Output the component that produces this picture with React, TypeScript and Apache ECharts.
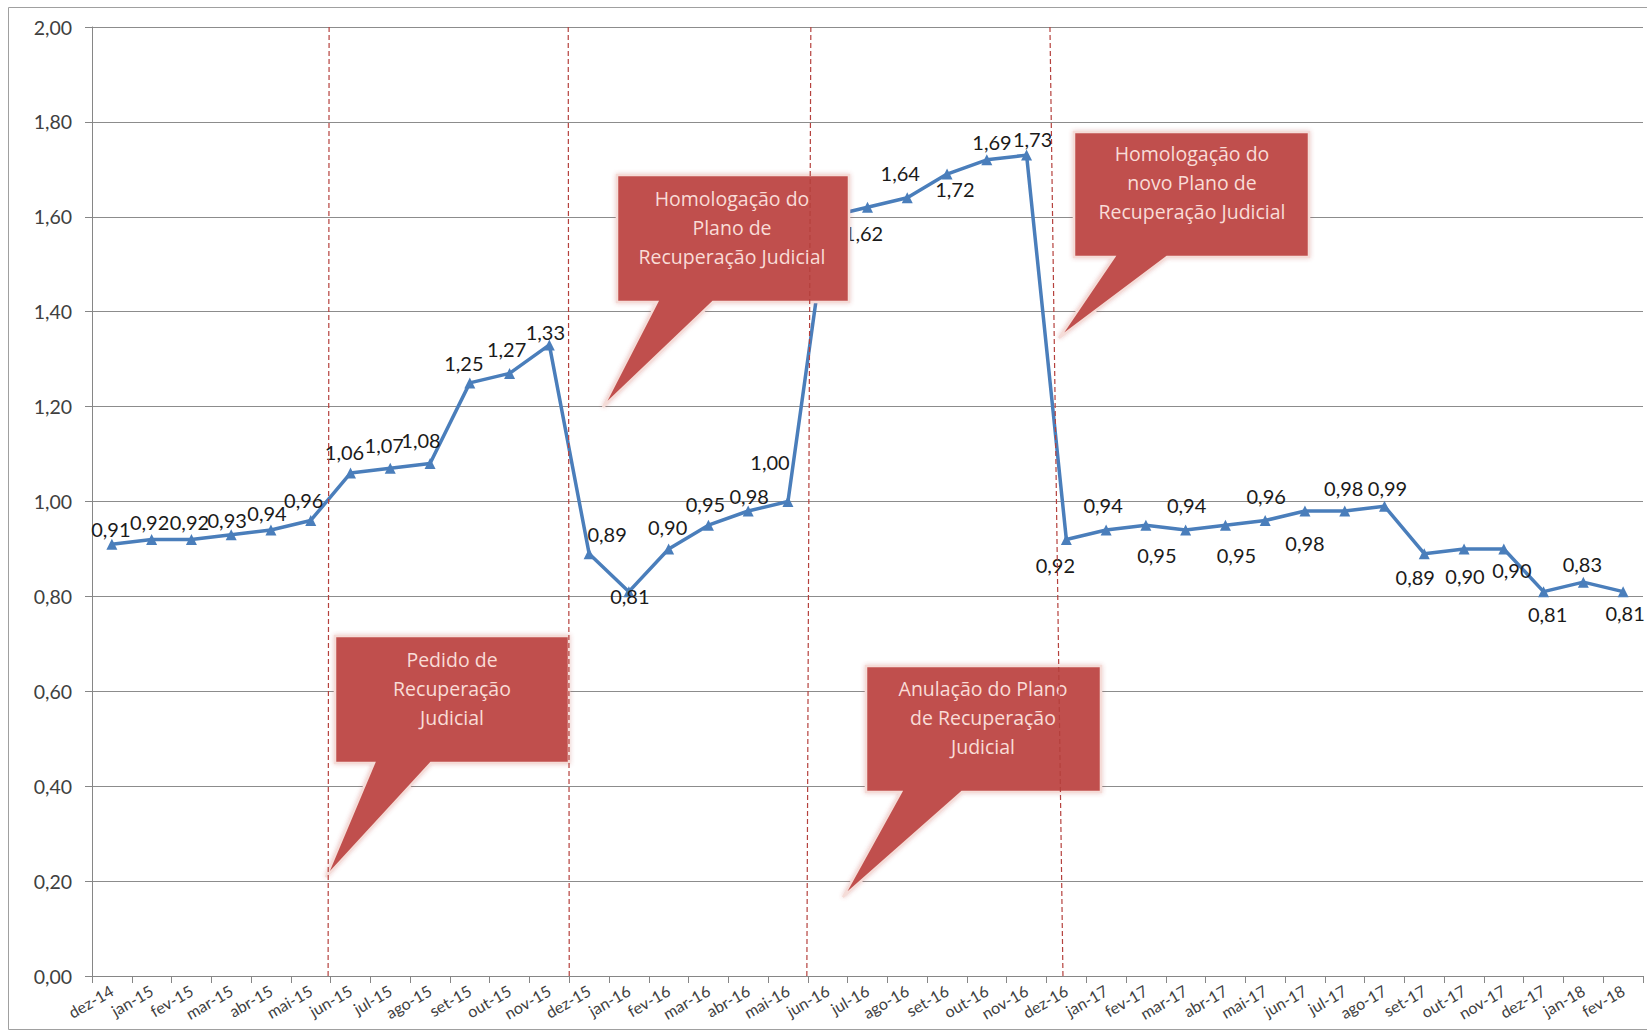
import React, { useEffect, useRef } from "react";
import * as echarts from "echarts";

const categories = [
  "dez-14", "jan-15", "fev-15", "mar-15", "abr-15", "mai-15", "jun-15", "jul-15", "ago-15", "set-15",
  "out-15", "nov-15", "dez-15", "jan-16", "fev-16", "mar-16", "abr-16", "mai-16", "jun-16", "jul-16",
  "ago-16", "set-16", "out-16", "nov-16", "dez-16", "jan-17", "fev-17", "mar-17", "abr-17", "mai-17",
  "jun-17", "jul-17", "ago-17", "set-17", "out-17", "nov-17", "dez-17", "jan-18", "fev-18",
];

const values = [
  0.91, 0.92, 0.92, 0.93, 0.94, 0.96, 1.06, 1.07, 1.08, 1.25,
  1.27, 1.33, 0.89, 0.81, 0.90, 0.95, 0.98, 1.00, 1.60, 1.62,
  1.64, 1.69, 1.72, 1.73, 0.92, 0.94, 0.95, 0.94, 0.95, 0.96,
  0.98, 0.98, 0.99, 0.89, 0.90, 0.90, 0.81, 0.83, 0.81,
];

const yMin = 0;
const yMax = 2;
const yInterval = 0.2;

// index of the month just before each event line
const eventAfterIndex = [5, 11, 17, 23];

// label placement (offset of label centre from the point), style only
const labelOffsets: number[][] = [
  [-1, -15], [-2, -17], [-2, -17], [-4, -15], [-4, -17], [-7, -20], [-6, -21], [-6, -23], [-9, -24], [-6, -20],
  [-3, -24], [-4, -13], [18, -20], [1, 4], [-1, -22], [-3, -21], [1, -15], [-18, -40], [0, -20], [-4, 26],
  [-7, -25], [45, -32], [-32, 29], [6, -16], [-11, 26], [-3, -25], [11, 30], [1, -25], [11, 30], [1, -24],
  [0, 32], [-1, -23], [3, -18], [-9, 23], [1, 27], [8, 21], [4, 22], [-1, -18], [2, 21],
];

const callouts = [
  { lines: ["Pedido de", "Recuperação", "Judicial"] },
  { lines: ["Homologação do", "Plano de", "Recuperação Judicial"] },
  { lines: ["Homologação do", "novo Plano de", "Recuperação Judicial"] },
  { lines: ["Anulação do Plano", "de Recuperação", "Judicial"] },
];

// geometry of callout shapes (annotation layout)
const calloutGeom = [
  { x0: 335, y0: 636, x1: 569, y1: 763, t0: 374, t1: 431, tip: [326, 877], tx: 452, ty: 688 },
  { x0: 617, y0: 175, x1: 849, y1: 302, t0: 657, t1: 713, tip: [603, 407], tx: 732, ty: 227 },
  { x0: 1074, y0: 132, x1: 1309, y1: 257, t0: 1114, t1: 1167, tip: [1059, 338], tx: 1192, ty: 182 },
  { x0: 866, y0: 666, x1: 1101, y1: 792, t0: 901, t1: 962, tip: [843, 897], tx: 983, ty: 717 },
];
const eventLineShift = [
  [-1.5, -2.5], [-1, 0], [3, -1], [3.5, 16.5],
];

const W = 1647;
const H = 1032;
const GRID = { left: 92, top: 27, width: 1551, height: 949 };
const FONT = "Lato, 'Open Sans', sans-serif";
const CALLOUT_FONT = "'Open Sans', Lato, sans-serif";

const fmt = (v: number) => v.toFixed(2).replace(".", ",");

export default function App() {
  const ref = useRef<HTMLDivElement>(null);

  useEffect(() => {
    if (!ref.current) return;
    const chart = echarts.init(ref.current, undefined, { renderer: "svg", width: W, height: H });

    const band = GRID.width / categories.length;
    const graphics: any[] = [];

    graphics.push({
      type: "rect",
      silent: true,
      z: 0,
      shape: { x: 8.5, y: 7.5, width: 1700, height: 1022 },
      style: { fill: "none", stroke: "#a0a0a0", lineWidth: 1 },
    });

    calloutGeom.forEach((g, i) => {
      graphics.push({
        type: "polygon",
        z: 50,
        shape: {
          points: [
            [g.x0, g.y0], [g.x1, g.y0], [g.x1, g.y1], [g.t1, g.y1], g.tip, [g.t0, g.y1], [g.x0, g.y1],
          ],
        },
        style: {
          fill: "#C0504D",
          stroke: "#F5DCD8",
          lineWidth: 2.5,
          shadowBlur: 4,
          shadowColor: "rgba(190,80,77,0.35)",
        },
      });
      graphics.push({
        type: "text",
        z: 51,
        x: g.tx,
        y: g.ty,
        style: {
          text: callouts[i].lines.join("\n"),
          fill: "#F9DCD7",
          fontFamily: CALLOUT_FONT,
          fontSize: 19.5,
          lineHeight: 29,
          align: "center",
          verticalAlign: "middle",
        },
      });
    });

    eventAfterIndex.forEach((idx, i) => {
      const bx = GRID.left + (idx + 1) * band;
      graphics.push({
        type: "line",
        z: 60,
        silent: true,
        shape: {
          x1: bx + eventLineShift[i][0],
          y1: GRID.top,
          x2: bx + eventLineShift[i][1],
          y2: GRID.top + GRID.height,
        },
        style: { stroke: "#B5413D", lineWidth: 1.2, lineDash: [5, 3] },
      });
    });

    chart.setOption({
      animation: false,
      backgroundColor: "#ffffff",
      grid: { ...GRID, containLabel: false },
      xAxis: {
        type: "category",
        data: categories,
        boundaryGap: true,
        axisLine: { show: true, lineStyle: { color: "#868686", width: 1 } },
        axisTick: { show: true, length: 7, lineStyle: { color: "#868686" } },
        axisLabel: {
          interval: 0,
          rotate: 30,
          margin: 13,
          fontSize: 16,
          fontFamily: FONT,
          color: "#404040",
        },
        splitLine: { show: false },
      },
      yAxis: {
        type: "value",
        min: yMin,
        max: yMax,
        interval: yInterval,
        axisLine: { show: true, lineStyle: { color: "#868686", width: 1 } },
        axisTick: { show: true, length: 7, lineStyle: { color: "#868686" } },
        axisLabel: {
          formatter: (v: number) => fmt(v),
          fontSize: 19.5,
          fontFamily: FONT,
          color: "#404040",
          margin: 20,
        },
        splitLine: { show: true, lineStyle: { color: "#8c8c8c", width: 1 } },
      },
      series: [
        {
          type: "line",
          data: values.map((v, i) => ({
            value: v,
            label: { offset: labelOffsets[i] },
          })),
          symbol: "triangle",
          symbolSize: 11,
          showAllSymbol: true,
          lineStyle: { color: "#4A7EBB", width: 3.5 },
          itemStyle: { color: "#4A7EBB" },
          z: 10,
          label: {
            show: true,
            position: "inside",
            formatter: (p: any) => fmt(p.value),
            fontSize: 20,
            fontFamily: FONT,
            color: "#1a1a1a",
          },
        },
      ],
      graphic: graphics,
    });

    return () => chart.dispose();
  }, []);

  return (
    <div
      ref={ref}
      style={{ position: "absolute", left: 0, top: 0, width: W, height: H, background: "#fff" }}
    />
  );
}
